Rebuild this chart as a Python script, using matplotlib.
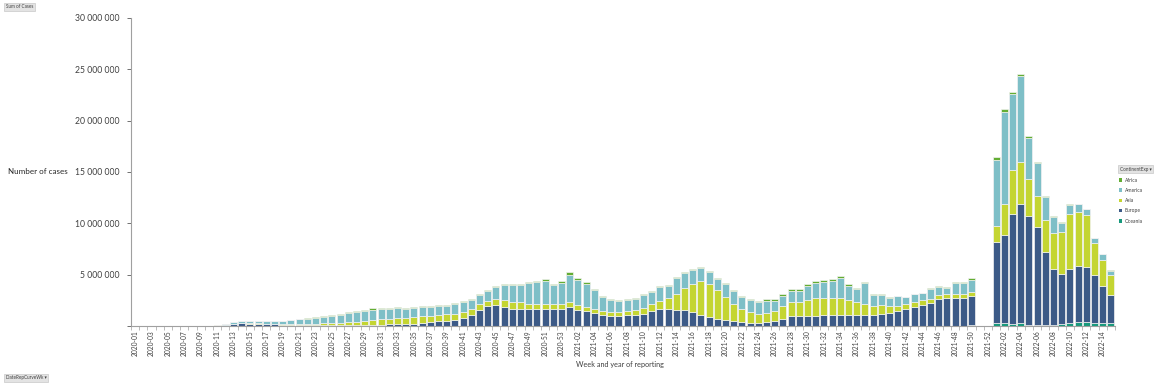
import numpy as np
import matplotlib.pyplot as plt
from matplotlib.patches import Patch
from matplotlib.ticker import FuncFormatter, FixedLocator

plt.rcParams['font.family'] = ['Lato', 'DejaVu Sans']

# week categories: 2020-01..2020-53, 2021-01..2021-52, 2022-01..2022-15
weeks = ([f"2020-{w:02d}" for w in range(1, 54)]
         + [f"2021-{w:02d}" for w in range(1, 53)]
         + [f"2022-{w:02d}" for w in range(1, 16)])

# weekly cases per continent, in millions
oceania = [0, 0, 0, 0, 0, 0, 0, 0, 0, 0,
           0, 0.001, 0.003, 0.003, 0.002, 0.001, 0.001, 0, 0, 0,
           0, 0, 0, 0, 0, 0.001, 0.001, 0.002, 0.003, 0.004,
           0.005, 0.005, 0.004, 0.003, 0.002, 0.001, 0.001, 0.001, 0.001, 0.001,
           0.001, 0.001, 0.001, 0.001, 0.001, 0.001, 0.001, 0.001, 0.001, 0.001,
           0.001, 0.001, 0.001, 0.001, 0.001, 0.001, 0.001, 0.001, 0.001, 0.001,
           0.001, 0.001, 0.001, 0.001, 0.001, 0.001, 0.001, 0.001, 0.001, 0.001,
           0.001, 0.001, 0.001, 0.001, 0.001, 0.002, 0.003, 0.004, 0.005, 0.006,
           0.008, 0.010, 0.012, 0.014, 0.015, 0.016, 0.015, 0.014, 0.013, 0.012,
           0.012, 0.012, 0.013, 0.014, 0.014, 0.013, 0.012, 0.012, 0.013, 0.015,
           0.020, 0.030, 0.060, 0, 0,
           0.26, 0.26, 0.15, 0.32, 0.10, 0.10, 0.10, 0.13, 0.20, 0.26,
           0.42, 0.42, 0.26, 0.26, 0.26]

europe = [0, 0, 0, 0, 0, 0, 0, 0, 0.001, 0.01,
          0.04, 0.12, 0.22, 0.26, 0.24, 0.21, 0.18, 0.15, 0.13, 0.11,
          0.10, 0.09, 0.09, 0.09, 0.09, 0.09, 0.09, 0.10, 0.11, 0.12,
          0.13, 0.15, 0.18, 0.20, 0.24, 0.30, 0.36, 0.45, 0.52, 0.60,
          0.80, 1.04, 1.52, 1.90, 2.00, 1.85, 1.68, 1.65, 1.62, 1.68,
          1.68, 1.62, 1.62, 1.85, 1.59, 1.43, 1.26, 1.04, 0.94, 0.94,
          1.04, 1.10, 1.20, 1.49, 1.62, 1.65, 1.59, 1.59, 1.39, 1.04,
          0.84, 0.65, 0.55, 0.45, 0.35, 0.28, 0.26, 0.39, 0.52, 0.71,
          1.00, 0.94, 0.97, 0.94, 1.10, 1.10, 1.10, 1.04, 1.04, 1.04,
          1.04, 1.17, 1.26, 1.43, 1.68, 1.81, 2.00, 2.24, 2.59, 2.72,
          2.75, 2.68, 2.83, 0, 0,
          7.94, 8.59, 10.74, 11.60, 10.66, 9.56, 7.13, 5.41, 4.89, 5.25,
          5.41, 5.35, 4.73, 3.60, 2.72]

asia = [0, 0, 0.001, 0.002, 0.01, 0.02, 0.02, 0.01, 0.005, 0.01,
        0.01, 0.01, 0.02, 0.03, 0.04, 0.05, 0.06, 0.07, 0.08, 0.10,
        0.11, 0.13, 0.15, 0.17, 0.20, 0.23, 0.27, 0.31, 0.37, 0.43,
        0.50, 0.55, 0.60, 0.60, 0.62, 0.64, 0.66, 0.64, 0.60, 0.56,
        0.52, 0.64, 0.58, 0.53, 0.65, 0.65, 0.68, 0.65, 0.55, 0.49,
        0.46, 0.48, 0.48, 0.48, 0.48, 0.45, 0.42, 0.45, 0.39, 0.39,
        0.38, 0.45, 0.55, 0.61, 0.78, 1.07, 1.55, 2.14, 2.69, 3.36,
        3.26, 2.82, 2.27, 1.72, 1.30, 1.08, 0.94, 0.91, 0.94, 1.19,
        1.37, 1.39, 1.59, 1.75, 1.59, 1.59, 1.65, 1.52, 1.26, 1.13,
        0.94, 0.83, 0.64, 0.55, 0.49, 0.52, 0.50, 0.42, 0.39, 0.42,
        0.39, 0.39, 0.41, 0, 0,
        1.50, 3.01, 4.27, 4.05, 3.59, 3.01, 3.14, 3.56, 4.05, 5.44,
        5.27, 5.02, 3.05, 2.52, 1.98]

america = [0, 0, 0, 0, 0, 0, 0, 0, 0, 0.001,
           0.005, 0.05, 0.14, 0.22, 0.23, 0.25, 0.27, 0.29, 0.30, 0.39,
           0.45, 0.50, 0.56, 0.63, 0.72, 0.78, 0.88, 0.94, 0.98, 1.03,
           1.02, 0.96, 0.94, 0.85, 0.88, 0.90, 0.83, 0.90, 0.87, 0.99,
           1.04, 0.85, 0.96, 1.01, 1.11, 1.50, 1.64, 1.65, 1.99, 2.10,
           2.28, 1.85, 2.06, 2.67, 2.43, 2.23, 1.81, 1.33, 1.25, 1.10,
           1.11, 1.10, 1.26, 1.19, 1.44, 1.20, 1.54, 1.43, 1.39, 1.23,
           1.20, 1.11, 1.29, 1.21, 1.20, 1.14, 1.15, 1.17, 1.01, 1.00,
           1.01, 1.06, 1.30, 1.48, 1.60, 1.72, 1.93, 1.37, 1.32, 2.01,
           1.02, 1.04, 0.86, 0.92, 0.63, 0.73, 0.69, 0.98, 0.82, 0.54,
           1.05, 1.08, 1.18, 0, 0,
           6.50, 8.98, 7.45, 8.39, 3.96, 3.17, 2.20, 1.56, 0.92, 0.87,
           0.76, 0.60, 0.53, 0.63, 0.44]

africa = [0, 0, 0, 0, 0, 0, 0, 0, 0, 0,
          0, 0.002, 0.004, 0.006, 0.008, 0.009, 0.01, 0.012, 0.015, 0.02,
          0.02, 0.03, 0.04, 0.05, 0.06, 0.07, 0.09, 0.11, 0.13, 0.14,
          0.13, 0.11, 0.09, 0.07, 0.06, 0.06, 0.05, 0.05, 0.05, 0.05,
          0.06, 0.07, 0.08, 0.09, 0.10, 0.10, 0.10, 0.10, 0.12, 0.13,
          0.15, 0.15, 0.18, 0.25, 0.20, 0.17, 0.14, 0.10, 0.08, 0.07,
          0.07, 0.07, 0.07, 0.08, 0.08, 0.08, 0.08, 0.09, 0.10, 0.10,
          0.10, 0.09, 0.09, 0.09, 0.10, 0.10, 0.11, 0.13, 0.15, 0.18,
          0.22, 0.24, 0.22, 0.20, 0.18, 0.16, 0.15, 0.12, 0.11, 0.10,
          0.08, 0.07, 0.06, 0.05, 0.05, 0.05, 0.05, 0.05, 0.06, 0.08,
          0.12, 0.15, 0.20, 0, 0,
          0.30, 0.26, 0.23, 0.23, 0.16, 0.13, 0.13, 0.10, 0.08, 0.07,
          0.06, 0.05, 0.05, 0.05, 0.04]

# stacking order bottom -> top
series = [("Oceania", oceania, "#17997c"),
          ("Europe", europe, "#3c5a87"),
          ("Asia", asia, "#c4d532"),
          ("America", america, "#7ebfc7"),
          ("Africa", africa, "#63ad33")]

fig = plt.figure(figsize=(11.6, 3.85), dpi=100)
ax = fig.add_axes([131 / 1160, 1 - 326 / 385, 984 / 1160, 308 / 385])

x = np.arange(len(weeks))
bottom = np.zeros(len(weeks))
for name, vals, col in series:
    v = np.array(vals) * 1e6
    ax.bar(x, v, bottom=bottom, width=0.86, color=col, edgecolor="#f2f2f2",
           linewidth=0.5, label=name)
    bottom += v

ax.set_xlim(-0.5, len(weeks) - 0.5)
ax.set_ylim(0, 30e6)

# y axis
ax.set_yticks(np.arange(0, 30e6 + 1, 5e6))
ax.yaxis.set_major_formatter(FuncFormatter(
    lambda v, p: "" if v == 0 else f"{int(v):,}".replace(",", " ")))
ax.tick_params(axis="y", labelsize=6.2, colors="#595959", length=3, width=0.6,
               pad=5)
ax.tick_params(axis="y", labelcolor="#404040")

# x axis: labels every second week, tick marks at category boundaries
ax.set_xticks(x[::2])
ax.set_xticklabels(weeks[::2], rotation=90, fontsize=4.8, color="#404040")
ax.tick_params(axis="x", length=0, pad=3)
ax.xaxis.set_minor_locator(FixedLocator(np.arange(-0.5, len(weeks), 1)))
ax.tick_params(axis="x", which="minor", length=3, width=0.5, color="#a0a0a0")

for s in ["top", "right"]:
    ax.spines[s].set_visible(False)
for s in ["left", "bottom"]:
    ax.spines[s].set_color("#a0a0a0")
    ax.spines[s].set_linewidth(0.8)

fig.text(620 / 1160, 1 - 364 / 385, "Week and year of reporting", fontsize=5.2,
         color="#404040", ha="center", va="center")
fig.text(8 / 1160, 1 - 172 / 385, "Number of cases", fontsize=5.8,
         color="#262626", ha="left", va="center")

# pivot-chart buttons
btn = dict(boxstyle="square,pad=0.35", facecolor="#e3e3e3", edgecolor="#c8c8c8",
           linewidth=0.5)
fig.text(6 / 1160, 1 - 7 / 385, "Sum of Cases", fontsize=3.3, color="#404040",
         ha="left", va="center", bbox=btn)
fig.text(6 / 1160, 1 - 378 / 385, "DateRepCurveWk \u25be", fontsize=3.3,
         color="#404040", ha="left", va="center", bbox=btn)
fig.text(1120 / 1160, 1 - 169 / 385, "ContinentExp \u25be", fontsize=3.3,
         color="#404040", ha="left", va="center", bbox=btn)

handles = [Patch(facecolor=c, edgecolor="none", label=n) for n, _, c in series[::-1]]
fig.legend(handles=handles, loc="upper left",
           bbox_to_anchor=(1114 / 1160, 1 - 173 / 385), frameon=False,
           fontsize=3.6, handlelength=0.7, handleheight=0.7, handletextpad=0.5,
           labelspacing=1.05, labelcolor="#404040")

fig.savefig("out.png", dpi=100)
